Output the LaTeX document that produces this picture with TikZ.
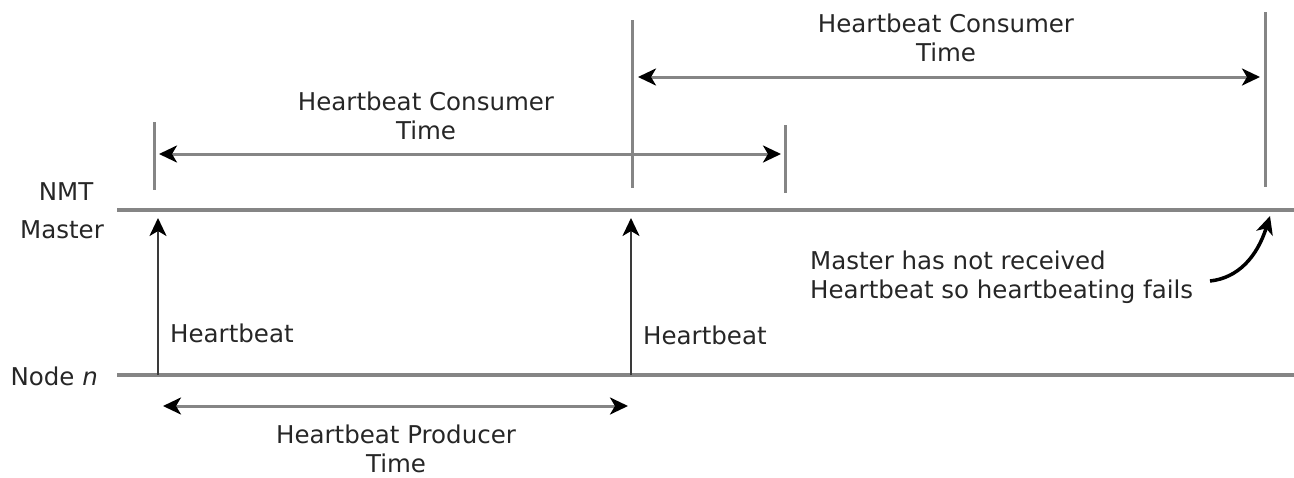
\documentclass[tikz,border=0pt]{standalone}
\usepackage{fontspec}
\setmainfont{DejaVu Sans}
\usetikzlibrary{arrows.meta}
\definecolor{lgray}{HTML}{858585}
\definecolor{dgray}{HTML}{3A3A3A}
\tikzset{
  tipstyle/.style={Stealth[black,length=18pt,width=17pt,inset=5pt]},
  base/.style={draw=lgray, line width=3.5pt},
  tick/.style={draw=lgray, line width=3pt},
  span/.style={draw=lgray, line width=3pt, {Stealth[black,length=18pt,width=17pt,inset=5pt]}-{Stealth[black,length=18pt,width=17pt,inset=5pt]}},
  beat/.style={draw=dgray, line width=2.6pt, -{Stealth[black,length=18pt,width=17pt,inset=5pt]}},
  lbl/.style={font=\fontsize{24.5}{28.5}\selectfont, text=black!85, inner sep=0pt, align=center},
}
\begin{document}
\begin{tikzpicture}[x=1pt,y=-1pt]
\useasboundingbox (0,0) rectangle (1294,477);
% base lines
\coordinate (mL) at (117,210); \coordinate (mR) at (1294,210);
\coordinate (nL) at (117,375); \coordinate (nR) at (1294,375);
\draw[base] (mL) -- (mR);
\draw[base] (nL) -- (nR);
% ticks
\coordinate (t1a) at (154,122); \coordinate (t1b) at (154,190);
\coordinate (t2a) at (632,20);  \coordinate (t2b) at (632,188);
\coordinate (t3a) at (785,125); \coordinate (t3b) at (785,193);
\coordinate (t4a) at (1265,12); \coordinate (t4b) at (1265,187);
\draw[tick] (t1a) -- (t1b);
\draw[tick] (t2a) -- (t2b);
\draw[tick] (t3a) -- (t3b);
\draw[tick] (t4a) -- (t4b);
% spans
\coordinate (c1a) at (159,154); \coordinate (c1b) at (781,154);
\coordinate (c2a) at (638,77);  \coordinate (c2b) at (1260,77);
\coordinate (pa) at (163,406);  \coordinate (pb) at (628,406);
\draw[span] (c1a) -- (c1b);
\draw[span] (c2a) -- (c2b);
\draw[span] (pa) -- (pb);
% heartbeats
\coordinate (h1a) at (158,375); \coordinate (h1b) at (158,218);
\coordinate (h2a) at (631,375); \coordinate (h2b) at (631,218);
\draw[beat] (h1a) -- (h1b);
\draw[beat] (h2a) -- (h2b);
% labels
\node[lbl] (nmt) at (66,192) {NMT};
\node[lbl] (master) at (62,230) {Master};
\node[lbl, anchor=east] (node) at (98,376) {Node \textit{n}};
\node[lbl, anchor=west] (hb1) at (170,333) {Heartbeat};
\node[lbl, anchor=west] (hb2) at (643,335) {Heartbeat};
\node[lbl] (cons1) at (426,116) {Heartbeat Consumer\\Time};
\node[lbl] (cons2) at (946,38) {Heartbeat Consumer\\Time};
\node[lbl] (prod) at (396,449) {Heartbeat Producer\\Time};
\node[lbl, anchor=west, align=left] (fail) at (810,277) {Master has not received\\Heartbeat so heartbeating fails};
\coordinate (fs) at (1210,281);
\coordinate (fe) at (1270,216);
\draw[line width=3.5pt, -{Stealth[black,length=18pt,width=17pt,inset=5pt]}] (fs) .. controls (1238,278) and (1257,257) .. (fe);
\end{tikzpicture}
\end{document}
